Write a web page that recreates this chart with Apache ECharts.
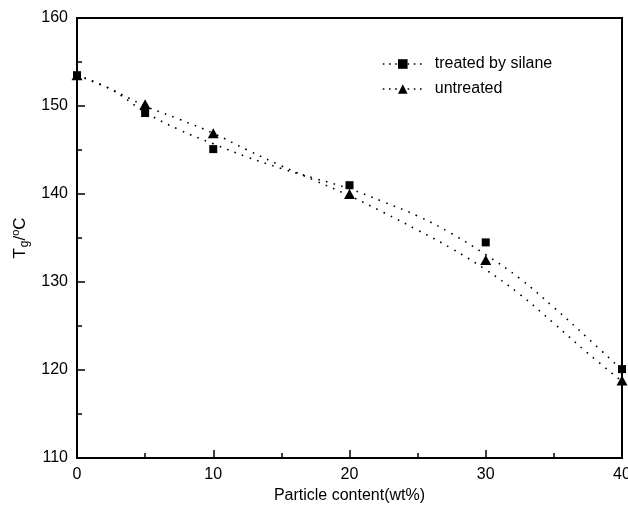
<!DOCTYPE html>
<html>
<head>
<meta charset="utf-8">
<script src="https://cdn.jsdelivr.net/npm/echarts@6/dist/echarts.min.js"></script>
<style>html,body{margin:0;padding:0;background:#fff}#c{width:628px;height:518px}</style>
</head>
<body>
<div id="c"></div>
<script>
// measured points
const contentX = [0, 5, 10, 20, 30, 40];
const treatedTg = [153.5, 149.2, 145.1, 141.0, 134.5, 120.1];
const untreatedX = [0, 5, 10, 20, 30, 40];
const untreatedTg = [153.5, 150.2, 146.9, 140.0, 132.5, 118.8];
// fitted curves
const fitX = [0, 2.5, 5, 7.5, 10, 12.5, 15, 17.5, 20, 22.5, 25, 27.5, 30, 32.5, 35, 37.5, 40];
const treatedFit = [153.5, 151.9, 149.3, 147.3, 145.7, 144.2, 142.9, 141.75, 140.6, 139.1, 137.5, 135.5, 133.1, 130.4, 127.1, 123.6, 120.0];
const untreatedFit = [153.5, 151.9, 150.0, 148.5, 146.9, 145.0, 143.2, 141.5, 139.8, 137.9, 135.9, 133.8, 131.4, 128.6, 125.3, 121.9, 118.7];
const xTicks = [0, 10, 20, 30, 40];
const yTicks = [110, 120, 130, 140, 150, 160];

const zip = (a, b) => a.map((v, i) => [v, b[i]]);
const dotStyle = { color: '#000', width: 1.6, type: [1.6, 6.4] };
const font = 'Liberation Sans, Arial, sans-serif';

const chart = echarts.init(document.getElementById('c'));
chart.setOption({
  animation: false,
  backgroundColor: '#fff',
  grid: { left: 77, right: 6, top: 18, bottom: 60, show: true, borderColor: '#000', borderWidth: 2,
    backgroundColor: 'transparent', outerBoundsMode: 'none', containLabel: false },
  legend: {
    left: 377, top: 51, orient: 'vertical', itemWidth: 40, itemHeight: 12, itemGap: 9,
    textStyle: { fontFamily: font, fontSize: 16, color: '#000', padding: [0, 0, 0, 7] },
    data: [
      { name: 'treated by silane', lineStyle: { color: '#000', width: 1.6, type: [1.6, 4.6], opacity: 1 } },
      { name: 'untreated', lineStyle: { color: '#000', width: 1.6, type: [1.6, 4.6], opacity: 1 } }
    ]
  },
  xAxis: {
    type: 'value', min: 0, max: 40, interval: 10,
    name: 'Particle content(wt%)', nameLocation: 'middle', nameGap: 30,
    nameTextStyle: { fontFamily: font, fontSize: 16, color: '#000' },
    axisLine: { lineStyle: { color: '#000', width: 2 } },
    axisTick: { inside: true, length: 8, lineStyle: { color: '#000', width: 1.5 } },
    minorTick: { show: true, splitNumber: 2, length: 5, lineStyle: { color: '#000', width: 1.5 } },
    axisLabel: { fontFamily: font, fontSize: 16, color: '#000', margin: 9,
      formatter: v => xTicks.includes(v) ? String(v) : '' },
    splitLine: { show: false }
  },
  yAxis: {
    type: 'value', min: 110, max: 160, interval: 10,
    name: 'T{sub|g}/{sup|o}C', nameLocation: 'middle', nameGap: 46, nameRotate: 90,
    nameTextStyle: { fontFamily: font, fontSize: 17, color: '#000',
      rich: {
        sub: { fontFamily: font, fontSize: 12, color: '#000', verticalAlign: 'bottom', padding: [8, 0, 0, 1] },
        sup: { fontFamily: font, fontSize: 11, color: '#000', verticalAlign: 'top', padding: [0, 0, 8, 0] }
      } },
    axisLine: { lineStyle: { color: '#000', width: 2 } },
    axisTick: { inside: true, length: 8, lineStyle: { color: '#000', width: 1.5 } },
    minorTick: { show: true, splitNumber: 2, length: 5, lineStyle: { color: '#000', width: 1.5 } },
    axisLabel: { fontFamily: font, fontSize: 16, color: '#000', margin: 9,
      formatter: v => yTicks.includes(v) ? String(v) : '' },
    splitLine: { show: false }
  },
  series: [
    { name: 'fit-treated', type: 'line', data: zip(fitX, treatedFit), smooth: 0.4, symbol: 'none',
      lineStyle: dotStyle, silent: true, z: 2 },
    { name: 'fit-untreated', type: 'line', data: zip(fitX, untreatedFit), smooth: 0.4, symbol: 'none',
      lineStyle: dotStyle, silent: true, z: 2 },
    { name: 'treated by silane', type: 'line', data: zip(contentX, treatedTg), symbol: 'rect', symbolSize: 8,
      showAllSymbol: true, lineStyle: { width: 0, opacity: 0 }, itemStyle: { color: '#000' }, z: 3 },
    { name: 'untreated', type: 'line', data: zip(untreatedX, untreatedTg), symbol: 'triangle', symbolSize: [11, 10],
      showAllSymbol: true, lineStyle: { width: 0, opacity: 0 }, itemStyle: { color: '#000' }, z: 4 }
  ]
});
</script>
</body>
</html>
